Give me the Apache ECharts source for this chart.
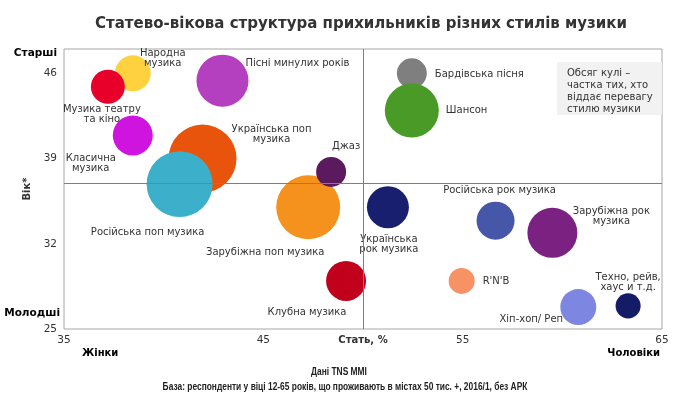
<!DOCTYPE html>
<html>
<head>
<meta charset="utf-8">
<script src="https://cdn.jsdelivr.net/npm/echarts@6/dist/echarts.min.js"></script>
<style>
  html, body { margin: 0; padding: 0; background: #fff; }
  #chart { width: 675px; height: 397px; }
</style>
</head>
<body>
<div id="chart"></div>
<script>
// стилі музики
var styles = ['Народна\nмузика', 'Музика театру\nта кіно', 'Пісні минулих років', 'Класична\nмузика',
    'Українська поп\nмузика', 'Російська поп музика', 'Зарубіжна поп музика', 'Джаз', 'Клубна музика',
    'Українська\nрок музика', 'Російська рок музика', 'Зарубіжна рок\nмузика', "R'N'B", 'Хіп-хоп/ Реп',
    'Техно, рейв,\nхаус и т.д.', 'Бардівська пісня', 'Шансон'];
// стать, % чоловіків
var malePct = [38.45, 37.2, 42.95, 38.45, 41.95, 40.8, 47.25, 48.4, 49.15, 51.25, 56.65, 59.5, 54.95, 60.8, 63.3, 52.45, 52.45];
// середній вік
var meanAge = [46.0, 44.9, 45.4, 40.9, 39.0, 36.9, 35.0, 37.9, 28.95, 35.0, 33.9, 32.9, 28.95, 26.8, 26.9, 46.0, 42.95];
// частка тих, хто віддає перевагу стилю (обсяг кулі)
var prefShare = [11.1, 9.9, 23.2, 13.7, 39.6, 37.3, 35.1, 7.7, 13.7, 15.1, 12.4, 21.4, 5.8, 11.1, 5.4, 7.7, 25];

var xTicks = [35, 45, 55, 65];
var yTicks = [25, 32, 39, 46];

var colors = ['#FDD23E', '#E8002A', '#B43FBF', '#CF14E0', '#E8540B', '#3CB0CA', '#F5921E', '#5B1A5E', '#C1001C',
    '#171F6E', '#4656A8', '#7B2181', '#F79264', '#7D87E2', '#141C66', '#7F7F7F', '#4A9A28'];
// підписи: [dx, dy, align]
var labelPos = [[30, -15, 'center'], [-6, 28, 'center'], [23, -17, 'left'], [-42, 28, 'center'],
    [69, -24, 'center'], [-32, 48, 'center'], [-43, 45, 'center'], [15, -26, 'center'], [-39, 31, 'center'],
    [1, 37, 'center'], [4, -30, 'center'], [59, -16, 'center'], [21, 0, 'left'], [-47, 12, 'center'],
    [0, -23, 'center'], [23, 1, 'left'], [34, 0, 'left']];

var data = styles.map(function (name, i) {
    return {
        name: name,
        value: [malePct[i], meanAge[i], prefShare[i]],
        itemStyle: { color: colors[i], opacity: 1 },
        label: { offset: [labelPos[i][0], labelPos[i][1]], align: labelPos[i][2] }
    };
});

var myChart = echarts.init(document.getElementById('chart'));

var lbl = { fontFamily: 'DejaVu Sans', fontSize: 10, color: '#333' };
var bold = { fontFamily: 'DejaVu Sans', fontSize: 10, fontWeight: 'bold', color: '#333' };
var narrow = { fontFamily: 'Liberation Sans', fontSize: 10.5, fontWeight: 'bold', fill: '#222', textAlign: 'center' };

var option = {
    animation: false,
    title: {
        text: 'Статево-вікова структура прихильників різних стилів музики',
        left: 356, top: 12, textAlign: 'center',
        textStyle: { fontFamily: 'DejaVu Sans', fontSize: 15, fontWeight: 'bold', color: '#333' }
    },
    grid: { left: 64, right: 13, top: 49, bottom: 68, show: true, borderColor: '#A6A6A6', borderWidth: 1 },
    xAxis: {
        type: 'value', min: 35, max: 65, interval: 5,
        axisLine: { show: false }, axisTick: { show: false }, splitLine: { show: false },
        axisLabel: {
            margin: 6, fontFamily: 'DejaVu Sans', fontSize: 10.5, color: '#333',
            formatter: function (v) {
                if (v === 50) return '{b|Стать, %}';
                return xTicks.indexOf(v) >= 0 ? String(v) : '';
            },
            rich: { b: bold }
        }
    },
    yAxis: {
        type: 'value', min: 25, max: 48, interval: 1,
        name: 'Вік*', nameLocation: 'middle', nameRotate: 90, nameGap: 27,
        nameTextStyle: bold,
        axisLine: { show: false }, axisTick: { show: false }, splitLine: { show: false },
        axisLabel: {
            margin: 7, fontFamily: 'DejaVu Sans', fontSize: 10.5, color: '#333',
            formatter: function (v) { return yTicks.indexOf(v) >= 0 ? String(v) : ''; }
        }
    },
    series: [{
        type: 'scatter',
        data: data,
        symbolSize: function (v) { return Math.sqrt(v[2]) * 10.8; },
        label: {
            show: true, position: 'inside', formatter: '{b}',
            fontFamily: lbl.fontFamily, fontSize: lbl.fontSize, color: lbl.color, lineHeight: 10
        },
        emphasis: { disabled: true },
        markLine: {
            silent: true, symbol: 'none', label: { show: false },
            lineStyle: { color: '#7F7F7F', width: 1, type: 'solid' },
            data: [{ xAxis: 50 }, { yAxis: 37 }]
        }
    }],
    graphic: [
        { type: 'text', right: 618, top: 48, style: Object.assign({ text: 'Старші' }, bold, { fontSize: 10.5 }) },
        { type: 'text', right: 615, top: 308, style: Object.assign({ text: 'Молодші' }, bold, { fontSize: 10.5 }) },
        { type: 'text', left: 82, top: 348, style: Object.assign({ text: 'Жінки' }, bold) },
        { type: 'text', right: 15, top: 348, style: Object.assign({ text: 'Чоловіки' }, bold) },
        { type: 'text', x: 339, y: 367, scaleX: 0.8, style: Object.assign({ text: 'Дані TNS MMI' }, narrow) },
        { type: 'text', x: 345, y: 382, scaleX: 0.8, style: Object.assign({ text: 'База: респонденти у віці 12-65 років, що проживають в містах 50 тис. +, 2016/1, без АРК' }, narrow) },
        { type: 'rect', left: 557, top: 62, shape: { width: 105, height: 53 }, style: { fill: '#F2F2F2' } },
        { type: 'text', left: 567, top: 67, style: { text: 'Обсяг кулі –\nчастка тих, хто\nвіддає перевагу\nстилю музики', fontFamily: 'DejaVu Sans', fontSize: 10, lineHeight: 12, fill: '#333' } }
    ]
};

myChart.setOption(option);
</script>
</body>
</html>
